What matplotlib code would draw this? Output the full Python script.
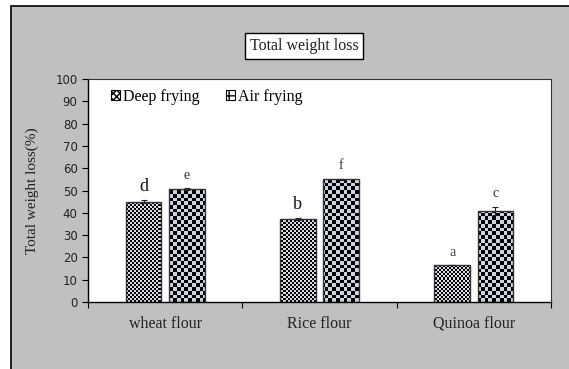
import numpy as np
import matplotlib
matplotlib.use('Agg')
import matplotlib.pyplot as plt
from matplotlib.patches import Rectangle, Patch

# data
flours = ['wheat flour', 'Rice flour', 'Quinoa flour']
deep = [45.0, 37.2, 16.6]
air = [50.5, 55.0, 40.8]
deep_err = [0.6, 0.3, 0.2]
air_err = [0.4, 0.3, 1.9]
deep_letters = ['d', 'b', 'a']
air_letters = ['e', 'f', 'c']
yticks = np.arange(0, 101, 10)

serif = 'Liberation Serif'

fig = plt.figure(figsize=(5.69, 3.69), dpi=100)
fig.patch.set_facecolor('white')
# grey chart area with black frame on the left/top
bg = Rectangle((11 / 569, -0.01), 1.0, 1 - 6 / 369 + 0.01, transform=fig.transFigure,
               facecolor='#c0c0c0', edgecolor='black', lw=1.2, zorder=-10)
fig.add_artist(bg)

ax = fig.add_axes([88 / 569, 1 - 302 / 369, (551 - 88) / 569, (302 - 79) / 369])
ax.set_facecolor('white')
ax.set_xlim(-0.5, 2.5)
ax.set_ylim(0, 100)


def checker(nx, ny, light):
    yy, xx = np.mgrid[0:ny, 0:nx]
    board = (xx + yy) % 2
    img = np.zeros((ny, nx, 3))
    img[board == 1] = light
    return img


fine = checker(232, 112, (0.86, 0.87, 0.91))
coarse = checker(125, 60, (0.80, 0.83, 0.88))

x = np.arange(len(flours))
w = 0.23
off = 0.14

for vals, errs, img, xs in [(deep, deep_err, fine, x - off), (air, air_err, coarse, x + off)]:
    bars = ax.bar(xs, vals, w, facecolor='none', edgecolor='#333333', lw=1, zorder=3)
    for b in bars:
        im = ax.imshow(img, extent=(-0.5, 2.5, 0, 100), aspect='auto',
                       interpolation='nearest', zorder=2)
        im.set_clip_path(b)
    ax.errorbar(xs, vals, yerr=errs, fmt='none', ecolor='#222222', elinewidth=0.8,
                capsize=2.5, capthick=0.8, zorder=4)

# significance letters
for i in range(len(flours)):
    big = deep_letters[i] in ('d', 'b')
    ax.text(x[i] - off, deep[i] + deep_err[i] + 2.5, deep_letters[i], ha='center', va='bottom',
            fontsize=13 if big else 10, family=serif, color='#111111' if big else '#444444')
    ax.text(x[i] + off, air[i] + air_err[i] + 3, air_letters[i], ha='center', va='bottom',
            fontsize=10, family=serif, color='#333333')

ax.set_yticks(yticks)
ax.set_yticklabels([str(v) for v in yticks], fontsize=8.5, family='DejaVu Sans', color='#222222')
ax.set_xticks([-0.5, 0.5, 1.5, 2.5])
ax.set_xticklabels([])
ax.set_xticks(x, minor=True)
ax.set_xticklabels(flours, minor=True, fontsize=11.5, family=serif, color='#222222')
ax.tick_params(axis='x', which='minor', length=0, pad=10)
ax.tick_params(axis='both', which='major', direction='out', length=4, width=0.8)

for s in ['left', 'bottom']:
    ax.spines[s].set_linewidth(1)
    ax.spines[s].set_color('black')
for s in ['top', 'right']:
    ax.spines[s].set_linewidth(0.8)
    ax.spines[s].set_color('#333333')

ax.set_ylabel('Total weight loss(%)', fontsize=11, family=serif, color='#222222')
ax.yaxis.set_label_coords(-0.105, 0.5)

handles = [Patch(facecolor='white', edgecolor='black', hatch='xxxxx', lw=0.8),
           Patch(facecolor='white', edgecolor='black', hatch='++', lw=0.8)]
ax.legend(handles, ['Deep frying', 'Air frying'], loc='upper left', ncol=2, frameon=False,
          prop={'family': serif, 'size': 11.5}, handlelength=0.6, handleheight=0.6,
          handletextpad=0.2, columnspacing=1.6, bbox_to_anchor=(0.018, 1.02))

fig.text(304 / 569, 1 - 46 / 369, 'Total weight loss', ha='center', va='center', fontsize=11.5,
         family=serif, color='#222222',
         bbox=dict(boxstyle='square,pad=0.3', facecolor='white', edgecolor='black', lw=1))

fig.savefig('out.png', dpi=100)
